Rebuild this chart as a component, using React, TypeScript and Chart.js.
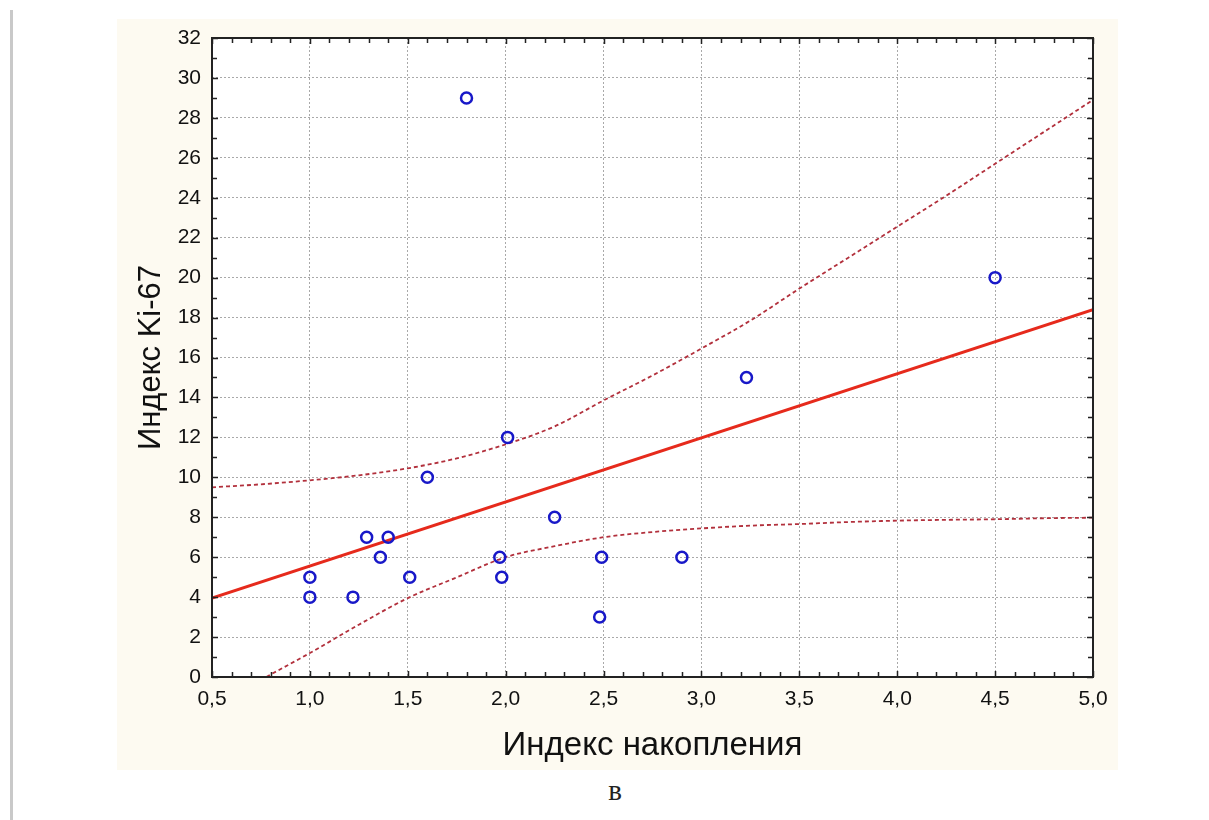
import React, { useEffect, useRef } from "react";
import { Chart, registerables } from "chart.js";

Chart.register(...registerables);

// ---- Data ----
const pointX = [1.0, 1.0, 1.22, 1.29, 1.36, 1.40, 1.51, 1.60, 1.80, 1.97, 1.98, 2.01, 2.25, 2.49, 2.48, 2.90, 3.23, 4.50];
const pointY = [5, 4, 4, 7, 6, 7, 5, 10, 29, 6, 5, 12, 8, 6, 3, 6, 15, 20];

const fitX = [0.5, 5.0];
const fitY = [3.95, 18.4];

const bandX = [0.5, 0.75, 1.0, 1.25, 1.5, 1.75, 2.0, 2.25, 2.5, 2.75, 3.0, 3.25, 3.5, 3.75, 4.0, 4.25, 4.5, 4.75, 5.0];
const upperY = [9.5, 9.65, 9.85, 10.1, 10.45, 10.95, 11.65, 12.55, 13.85, 15.1, 16.45, 17.85, 19.45, 21.0, 22.55, 24.1, 25.7, 27.3, 28.9];
const lowerY = [-1.6, -0.15, 1.2, 2.62, 3.95, 4.99, 6.0, 6.55, 7.0, 7.26, 7.44, 7.58, 7.66, 7.76, 7.83, 7.87, 7.9, 7.95, 7.98];

const xMin = 0.5;
const xMax = 5.0;
const xStep = 0.5;
const xMinorStep = 0.1;
const yMin = 0;
const yMax = 32;
const yStep = 2;
const yMinorStep = 1;

const xTitle = "Индекс накопления";
const yTitle = "Индекс Ki-67";
const caption = "в";

const fmtX = (v: number) => v.toFixed(1).replace(".", ",");

const framePlugin = {
  id: "frameAndTicks",
  beforeDraw(chart: any) {
    const { ctx, chartArea } = chart;
    ctx.save();
    ctx.fillStyle = "#ffffff";
    ctx.fillRect(chartArea.left, chartArea.top, chartArea.right - chartArea.left, chartArea.bottom - chartArea.top);
    ctx.restore();
  },
  afterDraw(chart: any) {
    const { ctx, chartArea } = chart;
    const xs = chart.scales.x;
    const ys = chart.scales.y;
    const { left, right, top, bottom } = chartArea;
    ctx.save();
    ctx.strokeStyle = "#222222";
    ctx.lineWidth = 1.5;
    ctx.beginPath();
    const nx = Math.round((xMax - xMin) / xMinorStep);
    for (let i = 0; i <= nx; i++) {
      const v = xMin + i * xMinorStep;
      const major = Math.abs(v / xStep - Math.round(v / xStep)) < 1e-6;
      const len = major ? 6 : 5;
      const px = Math.round(xs.getPixelForValue(v)) + 0.5;
      ctx.moveTo(px, bottom);
      ctx.lineTo(px, bottom - len);
      ctx.moveTo(px, top);
      ctx.lineTo(px, top + len);
    }
    const ny = Math.round((yMax - yMin) / yMinorStep);
    for (let i = 0; i <= ny; i++) {
      const v = yMin + i * yMinorStep;
      const major = v % yStep === 0;
      const len = major ? 6 : 5;
      const py = Math.round(ys.getPixelForValue(v)) + 0.5;
      ctx.moveTo(left, py);
      ctx.lineTo(left + len, py);
      ctx.moveTo(right, py);
      ctx.lineTo(right - len, py);
    }
    ctx.stroke();
    ctx.lineWidth = 2;
    ctx.strokeRect(left, top, right - left, bottom - top);
    ctx.restore();
  },
};

export default function App() {
  const canvasRef = useRef<HTMLCanvasElement | null>(null);

  useEffect(() => {
    if (!canvasRef.current) return;
    const pts = pointX.map((x, i) => ({ x, y: pointY[i] }));
    const fit = fitX.map((x, i) => ({ x, y: fitY[i] }));
    const up = bandX.map((x, i) => ({ x, y: upperY[i] }));
    const lo = bandX.map((x, i) => ({ x, y: lowerY[i] }));
    const tickFont = { family: "'Liberation Sans', Arial, sans-serif", size: 21 };
    const xTitleFont = { family: "'Liberation Sans', Arial, sans-serif", size: 33 };
    const yTitleFont = { family: "'Liberation Sans', Arial, sans-serif", size: 31 };

    const chart = new Chart(canvasRef.current, {
      type: "scatter",
      data: {
        datasets: [
          {
            label: "points",
            data: pts,
            showLine: false,
            pointRadius: 5.5,
            pointBorderWidth: 2.5,
            pointBorderColor: "#1818c8",
            pointBackgroundColor: "rgba(0,0,0,0)",
            pointHoverRadius: 5.5,
          },
          {
            label: "fit",
            data: fit,
            showLine: true,
            borderColor: "#e62a1c",
            borderWidth: 3,
            pointRadius: 0,
            clip: 0,
          },
          {
            label: "upper",
            data: up,
            showLine: true,
            borderColor: "#b2303c",
            borderWidth: 1.8,
            borderDash: [4, 3],
            pointRadius: 0,
            cubicInterpolationMode: "monotone",
            clip: 0,
          },
          {
            label: "lower",
            data: lo,
            showLine: true,
            borderColor: "#b2303c",
            borderWidth: 1.8,
            borderDash: [4, 3],
            pointRadius: 0,
            cubicInterpolationMode: "monotone",
            clip: 0,
          },
        ] as any,
      },
      options: {
        animation: false,
        responsive: false,
        devicePixelRatio: 1,
        layout: { padding: { top: 19, right: 25, bottom: 0, left: 0 } },
        plugins: {
          legend: { display: false },
          tooltip: { enabled: false },
        },
        scales: {
          x: {
            type: "linear",
            min: xMin,
            max: xMax,
            afterFit: (s: any) => {
              s.height = 93;
              s.paddingLeft = 0;
              s.paddingRight = 0;
            },
            ticks: {
              stepSize: xStep,
              padding: 10,
              color: "#111111",
              font: tickFont,
              maxRotation: 0,
              callback: (v: any) => fmtX(Number(v)),
            },
            grid: { color: "#a9a9a9", lineWidth: 1, drawTicks: false },
            border: { display: false, dash: [2, 2] },
            title: {
              display: true,
              text: xTitle,
              color: "#111111",
              font: xTitleFont,
              padding: { top: 0, bottom: 4 },
            },
          },
          y: {
            type: "linear",
            min: yMin,
            max: yMax,
            afterFit: (s: any) => {
              s.width = 95;
              s.paddingTop = 0;
              s.paddingBottom = 0;
            },
            ticks: {
              stepSize: yStep,
              padding: 11,
              color: "#111111",
              font: tickFont,
            },
            grid: { color: "#a9a9a9", lineWidth: 1, drawTicks: false },
            border: { display: false, dash: [2, 2] },
            title: {
              display: true,
              text: yTitle,
              color: "#111111",
              font: yTitleFont,
              padding: { top: 16, bottom: 0 },
            },
          },
        },
      } as any,
      plugins: [framePlugin],
    });
    return () => chart.destroy();
  }, []);

  return (
    <div style={{ position: "absolute", left: 0, top: 0, width: 1209, height: 820, background: "#ffffff" }}>
      <div style={{ position: "absolute", left: 10, top: 10, width: 3, height: 810, background: "#c9c9c9" }} />
      <div style={{ position: "absolute", left: 117, top: 19, width: 1001, height: 751, background: "#fdfaf1" }} />
      <canvas
        ref={canvasRef}
        width={1001}
        height={751}
        style={{ position: "absolute", left: 117, top: 19, width: 1001, height: 751 }}
      />
      <div
        style={{
          position: "absolute",
          left: 565,
          top: 775,
          width: 100,
          textAlign: "center",
          fontFamily: "'Liberation Serif', 'Times New Roman', serif",
          fontSize: 29,
          lineHeight: "30px",
          color: "#222",
        }}
      >
        {caption}
      </div>
    </div>
  );
}
